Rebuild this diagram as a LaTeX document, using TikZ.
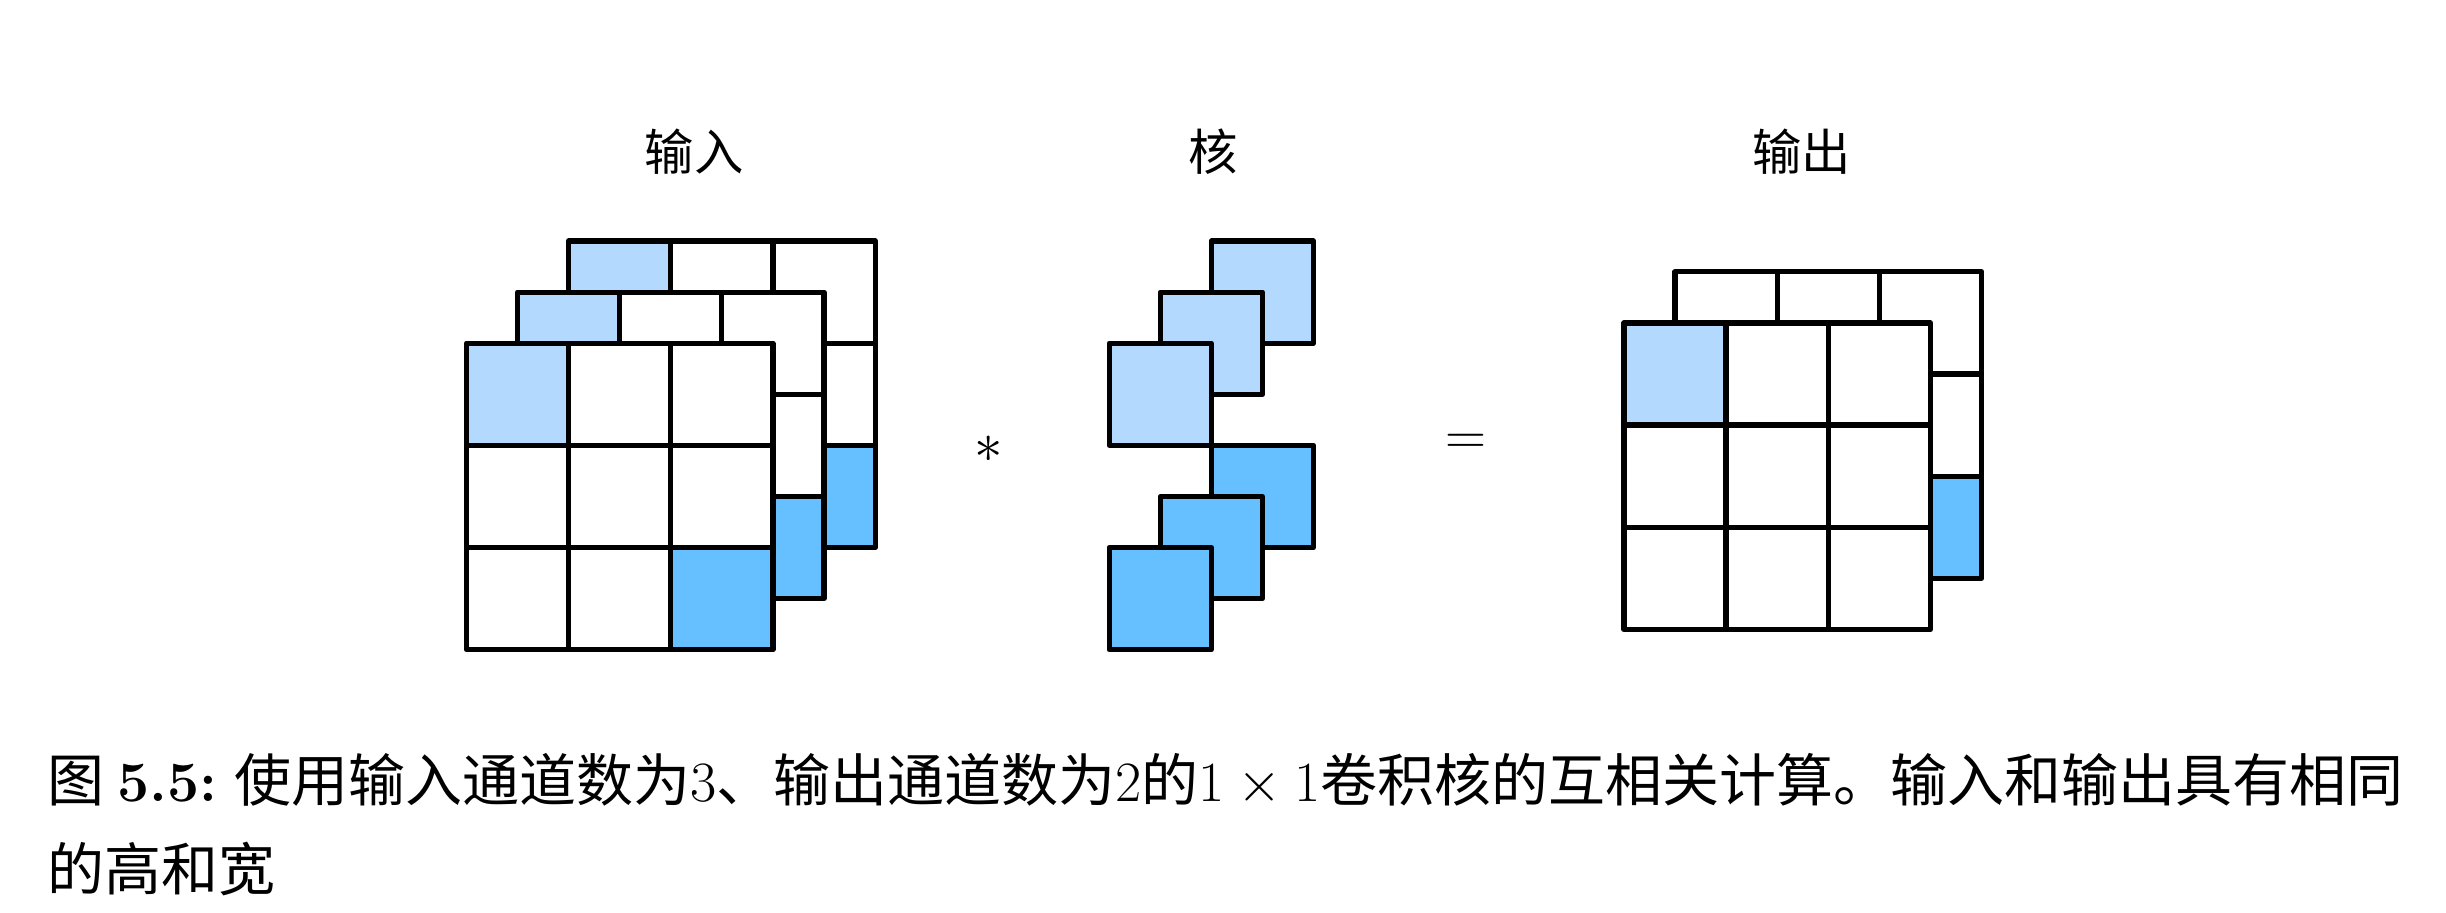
\documentclass[tikz,border=0pt]{standalone}
\usepackage{fontspec}
\newfontfamily\cjk{Noto Sans CJK SC}
\usetikzlibrary{positioning}

\definecolor{lightcell}{RGB}{179,217,255}
\definecolor{darkcell}{RGB}{102,191,255}

\begin{document}
\begin{tikzpicture}[x=0.02cm,y=-0.02cm,
  cell/.style={rectangle,draw,fill=white,line width=1.9pt,line join=round,
    minimum size=1.31cm,inner sep=0pt},
  title/.style={font=\cjk\fontsize{18}{18}\selectfont},
  op/.style={font=\fontsize{20}{20}\selectfont},
  caption/.style={font=\cjk\fontsize{20.8}{20.8}\selectfont,inner sep=0pt,anchor=base west}]
\useasboundingbox (0,0) rectangle (1568,585);

% Define block styles
\tikzstyle{grid} = [cell]

% input: three channels, back to front
\foreach \k in {2,1,0}{
  \foreach \r/\c/\f in {1/1/lightcell,1/2/white,1/3/white,2/1/white,2/2/white,
                        2/3/white,3/1/white,3/2/white,3/3/darkcell}{
    \node[grid,fill=\f] (in\k-\r-\c)
      at ({299+32.75*\k+65.5*(\c-0.5)},{220-32.75*\k+65.5*(\r-0.5)}) {};
  }
}

% kernel: three channels for each of two outputs
\foreach \k in {2,1,0}{
  \node[cell,fill=lightcell] (kl\k) at ({711+32.75*\k+32.75},{220-32.75*\k+32.75}) {};
}
\foreach \k in {2,1,0}{
  \node[cell,fill=darkcell] (kd\k) at ({711+32.75*\k+32.75},{351-32.75*\k+32.75}) {};
}

% output: two channels (back one first)
\foreach \r/\c/\f in {1/1/white,1/2/white,1/3/white,2/1/white,2/2/white,
                      2/3/white,3/1/white,3/2/white,3/3/darkcell}{
  \node[grid,fill=\f] (out1-\r-\c)
    at ({1041+32.75+65.5*(\c-0.5)},{207-32.75+65.5*(\r-0.5)}) {};
}
\foreach \r/\c/\f in {1/1/lightcell,1/2/white,1/3/white,2/1/white,2/2/white,
                      2/3/white,3/1/white,3/2/white,3/3/white}{
  \node[grid,fill=\f] (out0-\r-\c)
    at ({1041+65.5*(\c-0.5)},{207+65.5*(\r-0.5)}) {};
}

\node[title] (tin)  at (445,97)  {输入};
\node[title] (tker) at (778,97)  {核};
\node[title] (tout) at (1155,97) {输出};

\node[op] (star)  at (634,288) {$*$};
\node[op] (equal) at (940,285) {$=$};

\node[caption] (cap1) at (30,514)
  {图 {\rmfamily\bfseries 5.5:} 使用输入通道数为{\rmfamily 3}、输出通道数为{\rmfamily 2}的$1\times1$卷积核的互相关计算。输入和输出具有相同};
\node[caption] (cap2) at (30,571) {的高和宽};

\end{tikzpicture}
\end{document}
